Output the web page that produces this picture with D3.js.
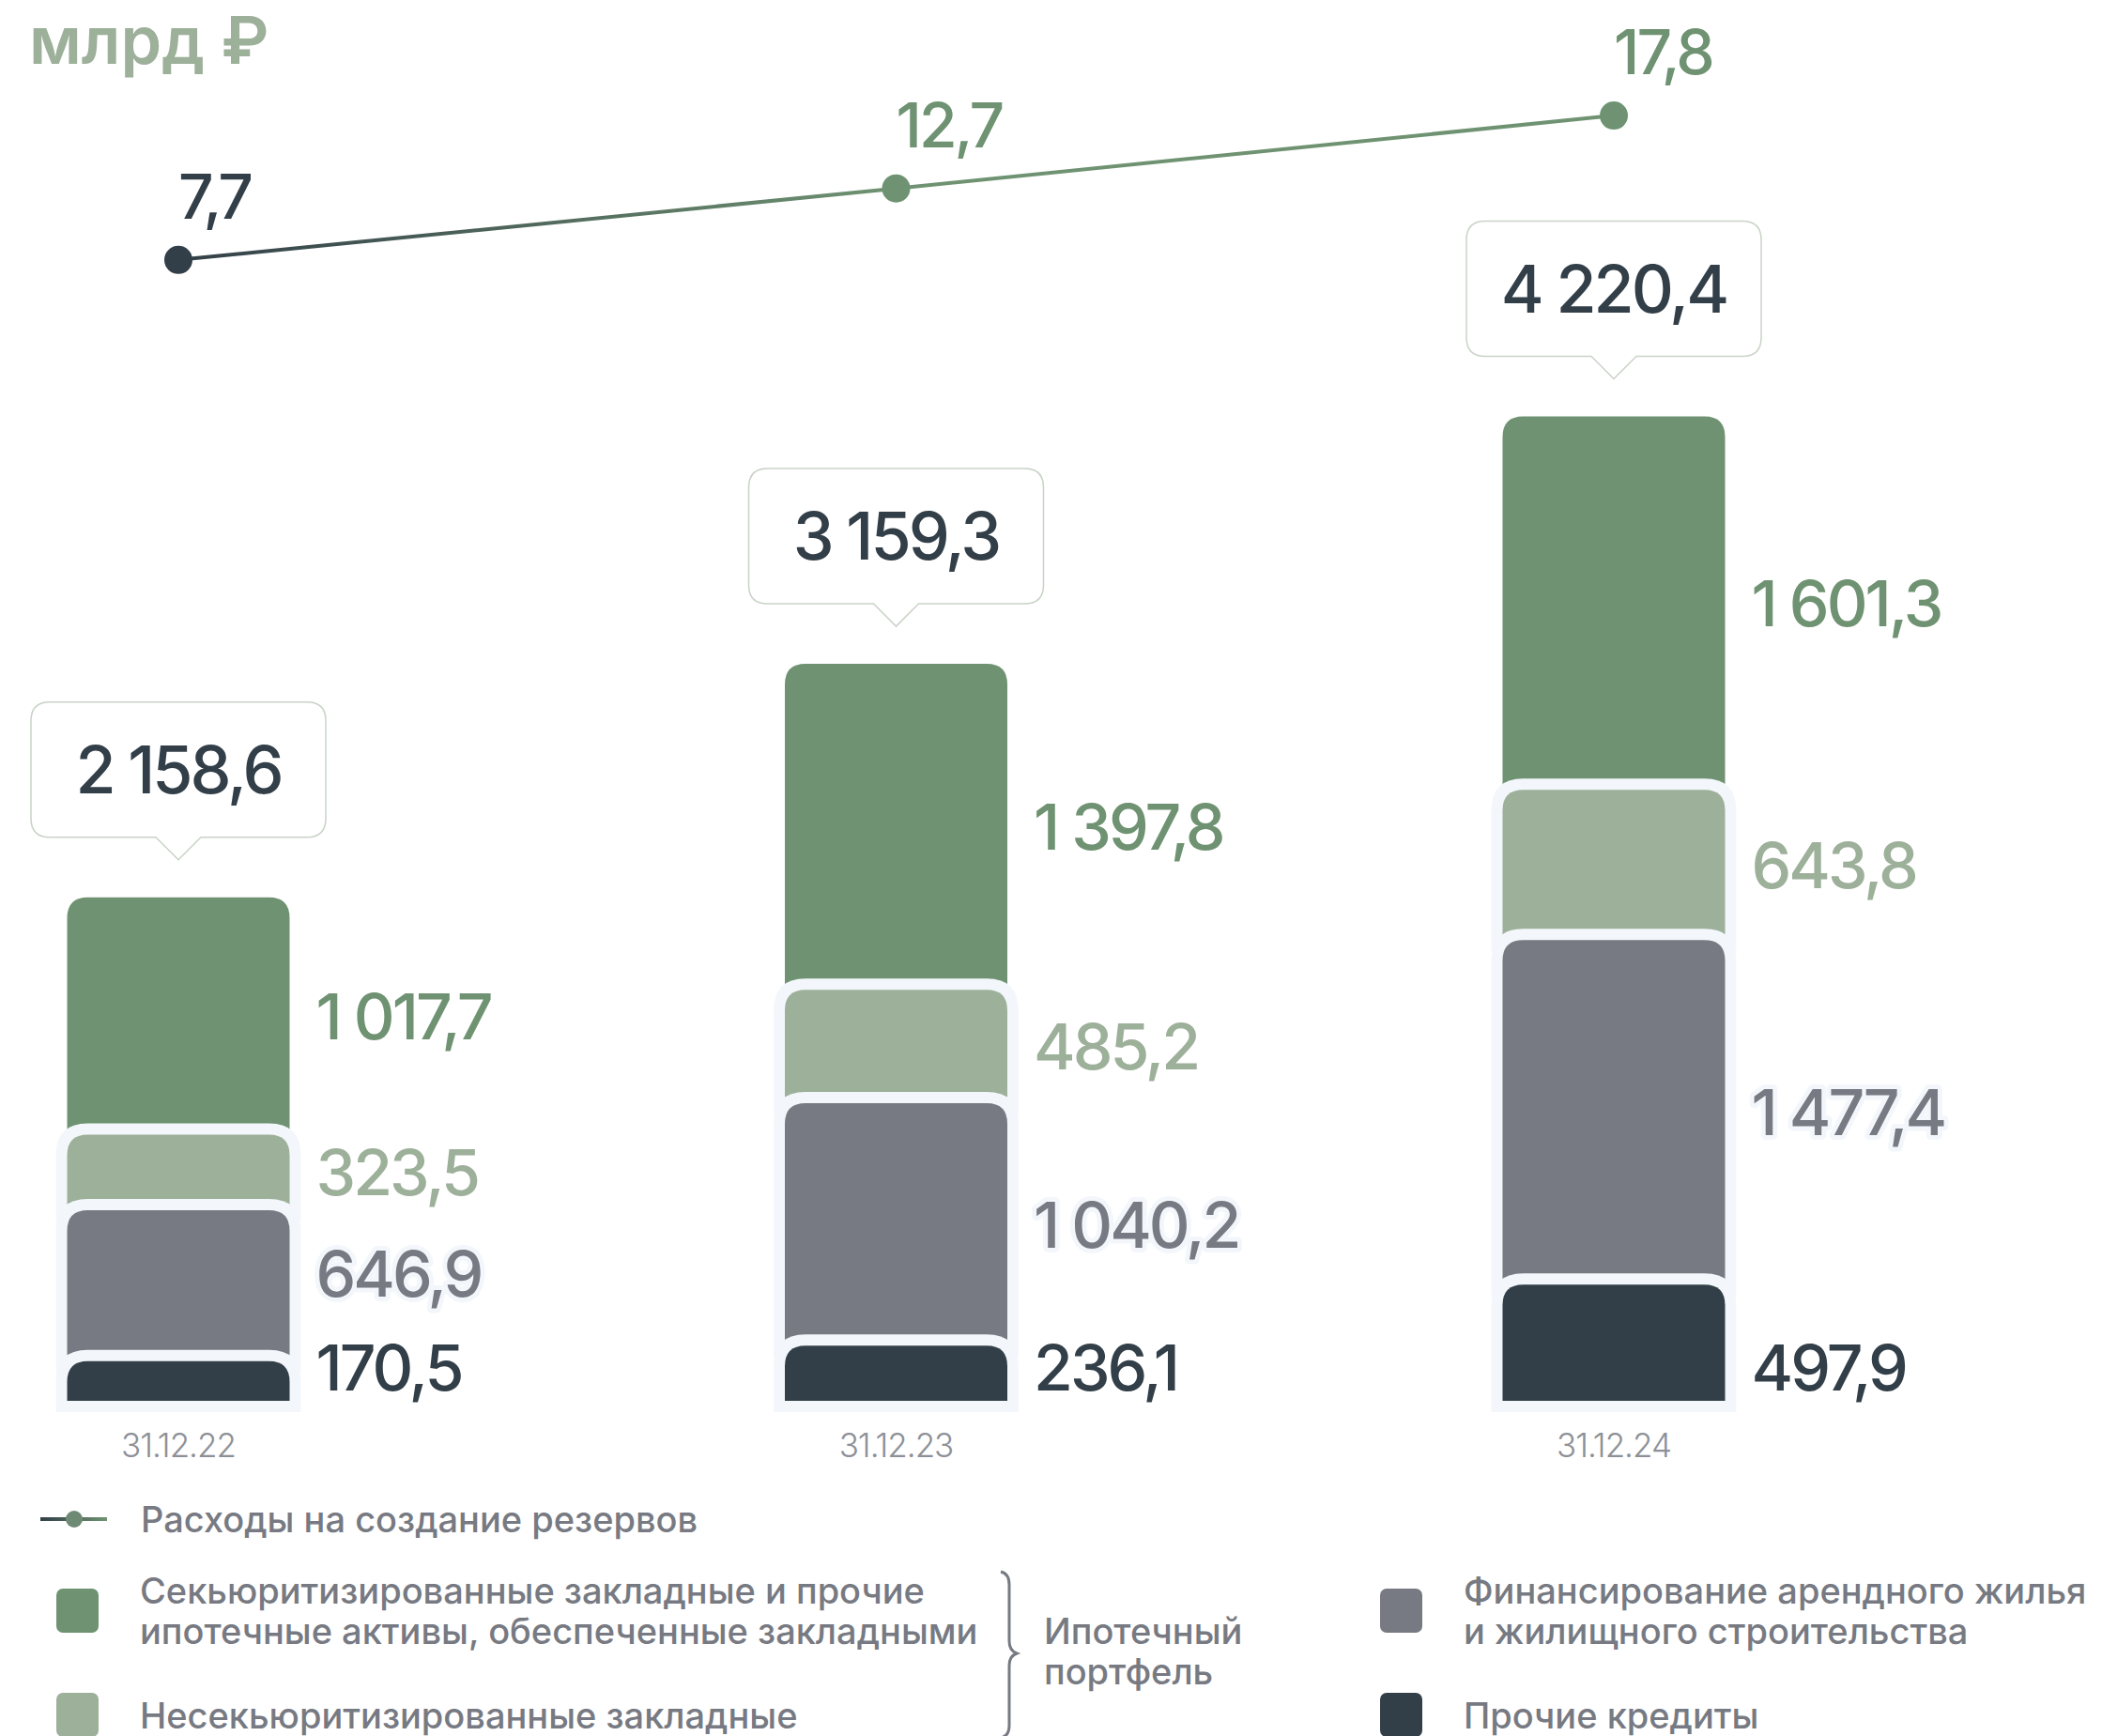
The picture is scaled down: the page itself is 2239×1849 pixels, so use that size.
<!DOCTYPE html>
<html>
<head>
<meta charset="utf-8">
<script src="https://cdn.jsdelivr.net/npm/d3@7"></script>
<style>
  body { margin: 0; background: #fff; }
  svg { display: block; font-family: "Inter", "Noto Sans", sans-serif; }
</style>
</head>
<body>
<div id="chart"></div>
<script>
// data
const dates = ["31.12.22", "31.12.23", "31.12.24"];
const otherLoans = [170.5, 236.1, 497.9];
const rentalFinancing = [646.9, 1040.2, 1477.4];
const nonSecuritized = [323.5, 485.2, 643.8];
const securitized = [1017.7, 1397.8, 1601.3];
const totals = [2158.6, 3159.3, 4220.4];
const provisions = [7.7, 12.7, 17.8];

const keys = ["other", "rental", "nonsec", "sec"];
const seriesNames = {
  line: "Расходы на создание резервов",
  sec: ["Секьюритизированные закладные и прочие", "ипотечные активы, обеспеченные закладными"],
  nonsec: ["Несекьюритизированные закладные"],
  rental: ["Финансирование арендного жилья", "и жилищного строительства"],
  other: ["Прочие кредиты"]
};
const unitLabel = "млрд ₽";
const groupLabel = ["Ипотечный", "портфель"];

const colors = { sec: "#6f9372", nonsec: "#9db09a", rental: "#777a82", other: "#333f48" };
const pale = "#f3f7fb";
const dark = "#333f48";

const width = 2239, height = 1849;
const svg = d3.select("#chart").append("svg")
  .attr("width", width).attr("height", height);

const locale = d3.formatLocale({ decimal: ",", thousands: "\u00a0", grouping: [3], currency: ["", ""] });
const fmt = locale.format(",.1f");

const rows = dates.map((d, i) => ({
  date: d, other: otherLoans[i], rental: rentalFinancing[i],
  nonsec: nonSecuritized[i], sec: securitized[i], total: totals[i], prov: provisions[i]
}));

const x = d3.scalePoint().domain(dates).range([190, 1719]);
const y = d3.scaleLinear().domain([0, 4500]).range([1492, 374]);
const yLine = d3.scaleLinear().domain([0, 20]).range([394, 89.6]);
const barW = 237, r = 22, border = 12;

const stacked = d3.stack().keys(keys)(rows);

// gradient for the line
const defs = svg.append("defs");
const grad = defs.append("linearGradient").attr("id", "lineGrad")
  .attr("gradientUnits", "userSpaceOnUse")
  .attr("x1", x(dates[0])).attr("x2", x(dates[2])).attr("y1", 0).attr("y2", 0);
grad.append("stop").attr("offset", 0).attr("stop-color", dark);
grad.append("stop").attr("offset", 0.5).attr("stop-color", "#6f9372");
grad.append("stop").attr("offset", 1).attr("stop-color", "#6f9372");

const lg = defs.append("linearGradient").attr("id", "legGrad");
lg.append("stop").attr("offset", 0).attr("stop-color", dark);
lg.append("stop").attr("offset", 1).attr("stop-color", "#6f9372");

// unit
svg.append("text").attr("x", 31).attr("y", 68)
  .attr("font-size", 70).attr("font-weight", 600)
  .attr("fill", "#9db09a").text(unitLabel);

// top-rounded rect path
function topRounded(x0, y0, w, h, rr, bottomExtra) {
  rr = Math.min(rr, h);
  const y1 = y0 + h + (bottomExtra || 0);
  return `M${x0},${y1}V${y0 + rr}Q${x0},${y0} ${x0 + rr},${y0}H${x0 + w - rr}Q${x0 + w},${y0} ${x0 + w},${y0 + rr}V${y1}Z`;
}

// bars: draw from top series down so lower segments overlay
const bars = svg.append("g");
for (let k = keys.length - 1; k >= 0; k--) {
  const s = stacked[k];
  s.forEach((d, i) => {
    const cx = x(dates[i]);
    const y0 = y(d[1]), y1 = y(d[0]);
    if (k < keys.length - 1) {
      bars.append("path")
        .attr("d", topRounded(cx - barW / 2 - border, y0 - border, barW + border * 2, y1 - y0 + border, r + border, border))
        .attr("fill", pale);
    }
    bars.append("path")
      .attr("d", topRounded(cx - barW / 2, y0, barW, y1 - y0, r))
      .attr("fill", colors[s.key]);
  });
}

// segment labels
rows.forEach((row, i) => {
  const cx = x(row.date);
  let prev = null;
  keys.forEach((key, k) => {
    const seg = stacked[k][i];
    let ly = (y(seg[0]) + y(seg[1])) / 2;
    if (k === 0) ly = y(0) - 35;
    else ly = Math.min(ly, prev - 100);
    prev = ly;
    const t = svg.append("text")
      .attr("x", cx + barW / 2 + 28).attr("y", ly).attr("dy", "0.36em")
      .attr("font-size", 68).attr("font-weight", 500).attr("letter-spacing", -3)
      .attr("fill", colors[key]).text(fmt(row[key]));
    if (key === "rental") {
      t.attr("stroke", pale).attr("stroke-width", 10).attr("stroke-linejoin", "round")
        .style("paint-order", "stroke");
    }
  });
});

// total callouts
rows.forEach(row => {
  const cx = x(row.date);
  const top = y(row.total);
  const bw = 314, bh = 144, br = 20;
  const bb = top - 64, bt = bb - bh, tip = top - 40, tw = 24;
  const p = `M${cx - bw / 2 + br},${bt}H${cx + bw / 2 - br}Q${cx + bw / 2},${bt} ${cx + bw / 2},${bt + br}` +
    `V${bb - br}Q${cx + bw / 2},${bb} ${cx + bw / 2 - br},${bb}H${cx + tw}L${cx},${tip}L${cx - tw},${bb}` +
    `H${cx - bw / 2 + br}Q${cx - bw / 2},${bb} ${cx - bw / 2},${bb - br}V${bt + br}Q${cx - bw / 2},${bt} ${cx - bw / 2 + br},${bt}Z`;
  svg.append("path").attr("d", p).attr("fill", "#fff")
    .attr("stroke", "#c9d3c7").attr("stroke-width", 1.5);
  svg.append("text").attr("x", cx).attr("y", bt + bh / 2).attr("dy", "0.36em")
    .attr("text-anchor", "middle").attr("font-size", 70).attr("font-weight", 500)
    .attr("letter-spacing", -3).attr("fill", dark).text(fmt(row.total));
});

// x axis labels
svg.append("g").selectAll("text").data(dates).join("text")
  .attr("x", d => x(d)).attr("y", 1552).attr("text-anchor", "middle")
  .attr("font-size", 35).attr("font-weight", 300).attr("letter-spacing", -1)
  .attr("fill", "#8d9097").text(d => d);

// provisions line
const line = d3.line().x(d => x(d.date)).y(d => yLine(d.prov));
svg.append("path").datum(rows).attr("d", line)
  .attr("fill", "none").attr("stroke", "url(#lineGrad)").attr("stroke-width", 4);
const dotColors = [dark, "#6f9372", "#6f9372"];
svg.append("g").selectAll("circle").data(rows).join("circle")
  .attr("cx", d => x(d.date)).attr("cy", d => yLine(d.prov)).attr("r", 15)
  .attr("fill", (d, i) => dotColors[i]);
svg.append("g").selectAll("text").data(rows).join("text")
  .attr("x", d => x(d.date)).attr("y", d => yLine(d.prov) - 44)
  .attr("font-size", 66).attr("font-weight", 500).attr("letter-spacing", -3)
  .attr("fill", (d, i) => i === 0 ? dark : "#6f9372")
  .text(d => locale.format(".1f")(d.prov));

// legend
const legText = "#777a82";
const leg = svg.append("g").attr("font-size", 38).attr("font-weight", 500).attr("fill", legText);
leg.append("line").attr("x1", 43).attr("x2", 114).attr("y1", 1618).attr("y2", 1618.01)
  .attr("stroke", "url(#legGrad)").attr("stroke-width", 4);
leg.append("circle").attr("cx", 79).attr("cy", 1618).attr("r", 9).attr("fill", "#6f8a74");
leg.append("text").attr("x", 150).attr("y", 1618).attr("dy", "0.36em").text(seriesNames.line);

const legItems = [
  { key: "sec", x: 60, y: 1692 },
  { key: "nonsec", x: 60, y: 1803 },
  { key: "rental", x: 1470, y: 1692 },
  { key: "other", x: 1470, y: 1803 }
];
legItems.forEach(it => {
  leg.append("rect").attr("x", it.x).attr("y", it.y).attr("width", 45).attr("height", 47)
    .attr("rx", 7).attr("fill", colors[it.key]);
  const lines = seriesNames[it.key];
  lines.forEach((t, j) => {
    const cy = lines.length === 1 ? it.y + 24 : it.y + 2 + j * 43;
    leg.append("text").attr("x", it.x + 89).attr("y", cy).attr("dy", "0.36em").text(t);
  });
});

// brace
leg.append("path")
  .attr("d", "M1066,1674 Q1075,1676 1075,1688 V1748 Q1075,1758 1083,1761 Q1075,1764 1075,1774 V1838 Q1075,1849 1066,1851")
  .attr("fill", "none").attr("stroke", legText).attr("stroke-width", 3);
groupLabel.forEach((t, j) => {
  leg.append("text").attr("x", 1112).attr("y", 1737 + j * 43).attr("dy", "0.36em").text(t);
});
</script>
</body>
</html>
